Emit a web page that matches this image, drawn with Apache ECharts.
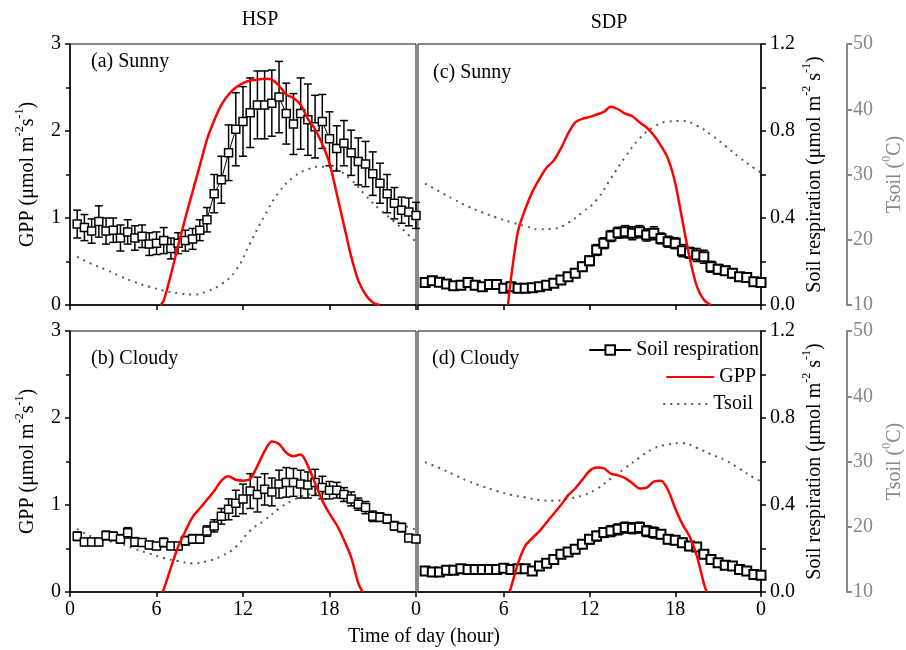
<!DOCTYPE html>
<html>
<head>
<meta charset="utf-8">
<script src="https://cdn.jsdelivr.net/npm/echarts@6/dist/echarts.min.js"></script>
<style>
html,body{margin:0;padding:0;background:#fff;}
#chart{width:906px;height:650px;}
</style>
</head>
<body>
<div id="chart"></div>
<script>
// ---------- DATA ----------
const hours = [0.5,1,1.5,2,2.5,3,3.5,4,4.5,5,5.5,6,6.5,7,7.5,8,8.5,9,9.5,10,10.5,11,11.5,12,
  12.5,13,13.5,14,14.5,15,15.5,16,16.5,17,17.5,18,18.5,19,19.5,20,20.5,21,21.5,22,22.5,23,23.5,24];
const tsHours = [0.5,1.5,2.5,3.5,4.5,5.5,6.5,7.5,8.5,9.5,10.5,11.5,12.5,13.5,14.5,15.5,16.5,17.5,18.5,19.5,20.5,21.5,22.5,23.5,24];
const xTickLabels = ['0','6','12','18','0'];

// (a) HSP Sunny
const srA = [0.93,0.89,0.85,0.96,0.85,0.86,0.77,0.84,0.77,0.79,0.70,0.71,0.74,0.65,0.71,0.74,0.76,0.86,0.98,1.28,1.44,1.75,2.02,2.11,
  2.21,2.30,2.30,2.32,2.39,2.20,2.08,2.20,2.13,2.05,2.11,1.91,1.80,1.86,1.75,1.65,1.62,1.51,1.40,1.28,1.17,1.09,1.07,1.03];
const errA = [0.16,0.15,0.14,0.18,0.15,0.14,0.15,0.14,0.14,0.13,0.13,0.13,0.15,0.12,0.12,0.12,0.12,0.12,0.14,0.22,0.27,0.32,0.42,0.40,
  0.40,0.39,0.39,0.38,0.41,0.35,0.35,0.41,0.41,0.36,0.31,0.31,0.26,0.26,0.26,0.27,0.26,0.25,0.23,0.22,0.18,0.15,0.16,0.15];
const gppA = [[6.3,0],[6.5,0.05],[7,0.35],[7.5,0.68],[8,1.0],[8.5,1.3],[9,1.6],[9.5,1.9],[10,2.12],[10.5,2.3],[11,2.42],[11.5,2.5],
  [12,2.55],[12.5,2.58],[13,2.59],[13.5,2.6],[14,2.59],[14.5,2.52],[15,2.42],[15.5,2.38],[16,2.3],[16.5,2.14],[17,2.02],[17.5,1.85],
  [18,1.63],[18.5,1.28],[19,0.92],[19.5,0.56],[20,0.28],[20.5,0.12],[21,0.03],[21.5,0]];
const tsA = [17.4,16.3,15.4,14.4,13.5,12.8,12.2,11.8,11.6,12.1,13.2,15.3,19.5,23.7,27.3,29.6,30.8,31.2,30.7,29.2,26.8,24.6,22.8,20.7,19.7];

// (c) SDP Sunny
const srC = [0.103,0.112,0.105,0.097,0.089,0.091,0.103,0.091,0.084,0.094,0.094,0.077,0.084,0.077,0.077,0.079,0.084,0.091,0.100,0.115,
  0.130,0.146,0.176,0.203,0.253,0.284,0.317,0.332,0.337,0.330,0.337,0.322,0.330,0.306,0.291,0.284,0.250,0.240,0.230,0.222,
  0.176,0.164,0.158,0.146,0.130,0.127,0.107,0.103];
const errC = [0.012,0.015,0.012,0.01,0.01,0.01,0.012,0.01,0.01,0.01,0.01,0.012,0.01,0.01,0.01,0.01,0.01,0.012,0.012,0.015,
  0.015,0.018,0.02,0.022,0.025,0.025,0.025,0.025,0.028,0.03,0.028,0.028,0.03,0.025,0.025,0.025,0.028,0.025,0.03,0.03,
  0.025,0.022,0.02,0.02,0.018,0.015,0.015,0.012];
const gppC = [[6.3,0],[6.5,0.3],[7,0.85],[7.5,1.1],[8,1.3],[8.5,1.45],[9,1.58],[9.5,1.66],[10,1.8],[10.5,1.97],[11,2.1],[11.5,2.14],
  [12,2.16],[12.5,2.19],[13,2.22],[13.5,2.28],[14,2.25],[14.5,2.2],[15,2.17],[15.5,2.1],[16,2.04],[16.5,1.95],[17,1.83],[17.5,1.68],
  [18,1.4],[18.5,0.97],[19,0.55],[19.5,0.22],[20,0.06],[20.5,0]];
const tsC = [28.6,27.4,26.2,25.1,24.2,23.4,22.7,22.1,21.6,21.7,22.6,24.2,26.1,29.4,32.7,35.5,37.3,38.1,38.2,37.5,36.1,34.4,32.6,31.0,30.3];

// (b) HSP Cloudy
const srB = [0.64,0.575,0.575,0.575,0.65,0.64,0.61,0.68,0.575,0.57,0.54,0.53,0.57,0.53,0.53,0.59,0.61,0.61,0.70,0.76,0.87,0.95,1.02,1.07,
  1.16,1.12,1.18,1.15,1.24,1.26,1.26,1.24,1.23,1.26,1.20,1.17,1.17,1.12,1.07,1.01,0.97,0.87,0.86,0.84,0.76,0.74,0.62,0.61];
const errB = [0.05,0.04,0.04,0.04,0.05,0.05,0.05,0.06,0.05,0.04,0.04,0.04,0.05,0.04,0.04,0.05,0.05,0.05,0.06,0.07,0.09,0.12,0.15,0.17,
  0.2,0.2,0.18,0.16,0.16,0.17,0.16,0.16,0.15,0.15,0.13,0.1,0.09,0.08,0.08,0.07,0.07,0.06,0.05,0.05,0.05,0.05,0.03,0.03];
const gppB = [[6.4,0],[6.5,0.03],[7,0.28],[7.5,0.52],[8,0.7],[8.5,0.86],[9,0.96],[9.5,1.06],[10,1.16],[10.5,1.28],[11,1.33],[11.5,1.29],
  [12,1.28],[12.5,1.3],[13,1.45],[13.5,1.62],[14,1.73],[14.5,1.7],[15,1.6],[15.5,1.56],[16,1.58],[16.5,1.45],[17,1.25],[17.5,1.05],
  [18,0.9],[18.5,0.77],[19,0.6],[19.5,0.4],[20,0.1],[20.3,0]];
const tsB = [19.7,18.5,17.9,17.4,16.6,15.9,15.2,14.75,14.4,14.7,15.5,16.9,19.4,21.0,22.8,24.1,24.9,25.1,24.8,24.0,22.9,21.7,20.7,19.9,19.6];

// (d) SDP Cloudy
const srD = [0.097,0.092,0.092,0.1,0.1,0.107,0.104,0.104,0.104,0.104,0.104,0.109,0.104,0.107,0.107,0.097,0.12,0.132,0.15,0.173,
  0.184,0.196,0.219,0.242,0.257,0.273,0.28,0.288,0.296,0.293,0.296,0.28,0.273,0.265,0.242,0.238,0.227,0.211,0.207,0.173,
  0.15,0.135,0.123,0.119,0.104,0.097,0.081,0.077];
const errD = [0.01,0.012,0.01,0.008,0.008,0.008,0.008,0.008,0.008,0.008,0.008,0.008,0.008,0.008,0.008,0.01,0.01,0.01,0.01,0.012,
  0.012,0.012,0.015,0.02,0.022,0.022,0.025,0.025,0.025,0.025,0.025,0.025,0.025,0.02,0.02,0.02,0.02,0.02,0.02,0.018,
  0.015,0.012,0.01,0.01,0.01,0.008,0.008,0.008];
const gppD = [[6.4,0],[6.5,0.05],[7,0.33],[7.5,0.53],[8,0.62],[8.5,0.7],[9,0.8],[9.5,0.9],[10,1.0],[10.5,1.11],[11,1.19],[11.5,1.29],
  [12,1.39],[12.5,1.43],[13,1.42],[13.5,1.36],[14,1.34],[14.5,1.31],[15,1.25],[15.5,1.19],[16,1.2],[16.5,1.27],[17,1.28],[17.5,1.17],
  [18,0.96],[18.5,0.78],[19,0.64],[19.5,0.42],[20,0.1],[20.2,0]];
const tsD = [29.9,29.0,28.0,27.0,26.2,25.5,24.9,24.5,24.1,24.0,24.3,24.8,25.8,27.4,29.0,30.6,32.0,32.6,32.8,32.1,31.1,30.2,28.9,27.5,27.0];

// ---------- STYLE ----------
const FONT = "'Liberation Serif','Times New Roman',serif";
const FS = 20;
const BLACK = '#000';
const GRAY = '#888';
const TSCOL = '#5a5a5a';

function richName(color) {
  return {
    fontFamily: FONT, fontSize: FS, color: color,
    rich: {
      t: {fontFamily: FONT, fontSize: FS, color: color, lineHeight: 28},
      s: {fontFamily: FONT, fontSize: 12, color: color, lineHeight: 12, verticalAlign: 'top'}
    }
  };
}

function xAxis(gi, showLabel, hideMin) {
  return {
    type: 'value', gridIndex: gi, min: 0, max: 24, interval: 6,
    axisLine: {show: true, lineStyle: {color: BLACK, width: 1.5}},
    axisTick: {show: true, inside: false, length: 5, lineStyle: {color: BLACK, width: 1.5}},
    axisLabel: {show: showLabel, fontFamily: FONT, fontSize: FS, color: BLACK, margin: 8,
      showMinLabel: !hideMin, formatter: v => xTickLabels[Math.round(v / 6)]},
    splitLine: {show: false}
  };
}
function gppAxis(gi) {
  return {
    type: 'value', gridIndex: gi, min: 0, max: 3, interval: 1, position: 'left',
    axisLine: {show: true, lineStyle: {color: BLACK, width: 1.5}},
    axisTick: {show: true, inside: false, length: 5, lineStyle: {color: BLACK, width: 1.5}},
    minorTick: {show: true, splitNumber: 2, length: 4, lineStyle: {color: BLACK, width: 1.5}},
    axisLabel: {fontFamily: FONT, fontSize: FS, color: BLACK, margin: 9},
    splitLine: {show: false}, minorSplitLine: {show: false},
    name: '{t|GPP (μmol m}{s|-2}{t|s}{s|-1}{t|)}',
    nameLocation: 'middle', nameRotate: 90, nameGap: 28,
    nameTextStyle: richName(BLACK)
  };
}
function srAxis(gi) {
  return {
    type: 'value', gridIndex: gi, min: 0, max: 1.2, interval: 0.4, position: 'right',
    axisLine: {show: true, lineStyle: {color: BLACK, width: 1.5}},
    axisTick: {show: true, inside: false, length: 5, lineStyle: {color: BLACK, width: 1.5}},
    minorTick: {show: true, splitNumber: 2, length: 5, lineStyle: {color: BLACK, width: 1.5}},
    axisLabel: {fontFamily: FONT, fontSize: FS, color: BLACK, margin: 9, formatter: v => v.toFixed(1)},
    splitLine: {show: false}, minorSplitLine: {show: false},
    name: '{t|Soil respiration (μmol m}{s|-2}{t| s}{s|-1}{t|)}',
    nameLocation: 'middle', nameRotate: 90, nameGap: 40,
    nameTextStyle: richName(BLACK)
  };
}
function tsAxis(gi) {
  return {
    type: 'value', gridIndex: gi, min: 10, max: 50, interval: 10, position: 'right', offset: 86,
    axisLine: {show: true, lineStyle: {color: GRAY, width: 2}},
    axisTick: {show: true, inside: false, length: 5, lineStyle: {color: GRAY, width: 2}},
    axisLabel: {fontFamily: FONT, fontSize: FS, color: GRAY, margin: 6},
    splitLine: {show: false},
    name: '{t|Tsoil (}{s|0}{t|C)}',
    nameLocation: 'middle', nameRotate: 90, nameGap: 34,
    nameTextStyle: richName(GRAY)
  };
}
function hidden(gi, min, max) {
  return {type: 'value', gridIndex: gi, min: min, max: max, show: false, splitLine: {show: false}};
}

function errRender(params, api) {
  const x = api.value(0);
  const lo = api.coord([x, api.value(1)]);
  const hi = api.coord([x, api.value(2)]);
  const w = 4;
  const st = {stroke: BLACK, lineWidth: 1.5};
  return {
    type: 'group',
    children: [
      {type: 'line', shape: {x1: lo[0], y1: lo[1], x2: hi[0], y2: hi[1]}, style: st},
      {type: 'line', shape: {x1: hi[0] - w, y1: hi[1], x2: hi[0] + w, y2: hi[1]}, style: st},
      {type: 'line', shape: {x1: lo[0] - w, y1: lo[1], x2: lo[0] + w, y2: lo[1]}, style: st}
    ]
  };
}

function panel(xi, gppY, srY, tsY, sr, err, gpp, ts, symSize, symBorder) {
  return [
    {type: 'line', name: 'Tsoil', xAxisIndex: xi, yAxisIndex: tsY, smooth: true, symbol: 'none',
      data: tsHours.map((h, i) => [h, ts[i]]),
      lineStyle: {color: TSCOL, width: 2, type: [2, 5]}, itemStyle: {color: TSCOL}, z: 1},
    {type: 'custom', name: 'err', xAxisIndex: xi, yAxisIndex: srY, silent: true,
      data: hours.map((h, i) => [h, sr[i] - err[i], sr[i] + err[i]]),
      encode: {x: 0, y: [1, 2]}, renderItem: errRender, z: 2},
    {type: 'line', name: 'Soil respiration', xAxisIndex: xi, yAxisIndex: srY,
      data: hours.map((h, i) => [h, sr[i]]),
      symbol: 'rect', symbolSize: symSize, showAllSymbol: true,
      itemStyle: {color: '#fff', borderColor: BLACK, borderWidth: symBorder},
      lineStyle: {color: BLACK, width: 1}, z: 3},
    {type: 'line', name: 'GPP', xAxisIndex: xi, yAxisIndex: gppY, smooth: 0.3, symbol: 'none',
      data: gpp, lineStyle: {color: '#ff0000', width: 2.5}, itemStyle: {color: '#ff0000'}, z: 4}
  ];
}

const gridStyle = {show: true, borderColor: '#111', borderWidth: 1, backgroundColor: 'transparent'};
const legendText = {fontFamily: FONT, fontSize: FS, color: BLACK};

const option = {
  animation: false,
  backgroundColor: '#fff',
  grid: [
    Object.assign({left: 70, top: 44, width: 346, height: 261}, gridStyle),
    Object.assign({left: 418, top: 44, width: 346, height: 261}, gridStyle),
    Object.assign({left: 70, top: 331, width: 346, height: 261}, gridStyle),
    Object.assign({left: 418, top: 331, width: 346, height: 261}, gridStyle)
  ],
  xAxis: [xAxis(0, false, false), xAxis(1, false, false), xAxis(2, true, false), xAxis(3, true, true)],
  yAxis: [
    gppAxis(0),
    hidden(0, 10, 50),
    hidden(1, 0, 3),
    srAxis(1),
    tsAxis(1),
    gppAxis(2),
    hidden(2, 10, 50),
    hidden(3, 0, 3),
    srAxis(3),
    tsAxis(3)
  ],
  legend: [
    {data: ['Soil respiration'], right: 147, top: 340, itemWidth: 42, itemHeight: 12, padding: 0,
      selectedMode: false, textStyle: legendText},
    {data: ['GPP'], right: 150, top: 367, itemWidth: 48, itemHeight: 12, padding: 0,
      selectedMode: false, textStyle: legendText, itemStyle: {opacity: 0}},
    {data: ['Tsoil'], right: 153, top: 394, itemWidth: 45, itemHeight: 12, padding: 0,
      selectedMode: false, textStyle: legendText, itemStyle: {opacity: 0}}
  ],
  graphic: [
    {type: 'text', x: 260, y: 20, style: {text: 'HSP', fontFamily: FONT, fontSize: FS, fill: BLACK, align: 'center', verticalAlign: 'middle'}},
    {type: 'text', x: 609, y: 23, style: {text: 'SDP', fontFamily: FONT, fontSize: FS, fill: BLACK, align: 'center', verticalAlign: 'middle'}},
    {type: 'text', x: 91, y: 62, style: {text: '(a) Sunny', fontFamily: FONT, fontSize: FS, fill: BLACK, align: 'left', verticalAlign: 'middle'}},
    {type: 'text', x: 433, y: 73, style: {text: '(c) Sunny', fontFamily: FONT, fontSize: FS, fill: BLACK, align: 'left', verticalAlign: 'middle'}},
    {type: 'text', x: 91, y: 359, style: {text: '(b) Cloudy', fontFamily: FONT, fontSize: FS, fill: BLACK, align: 'left', verticalAlign: 'middle'}},
    {type: 'text', x: 432, y: 359, style: {text: '(d) Cloudy', fontFamily: FONT, fontSize: FS, fill: BLACK, align: 'left', verticalAlign: 'middle'}},
    {type: 'text', x: 424, y: 637, style: {text: 'Time of day (hour)', fontFamily: FONT, fontSize: FS, fill: BLACK, align: 'center', verticalAlign: 'middle'}}
  ],
  series: [].concat(
    panel(0, 0, 0, 1, srA, errA, gppA, tsA, 8, 1.5),
    panel(1, 2, 3, 4, srC, errC, gppC, tsC, 9, 2),
    panel(2, 5, 5, 6, srB, errB, gppB, tsB, 8, 1.5),
    panel(3, 7, 8, 9, srD, errD, gppD, tsD, 9, 2)
  )
};

const chart = echarts.init(document.getElementById('chart'), null, {renderer: 'canvas'});
chart.setOption(option);
</script>
</body>
</html>
